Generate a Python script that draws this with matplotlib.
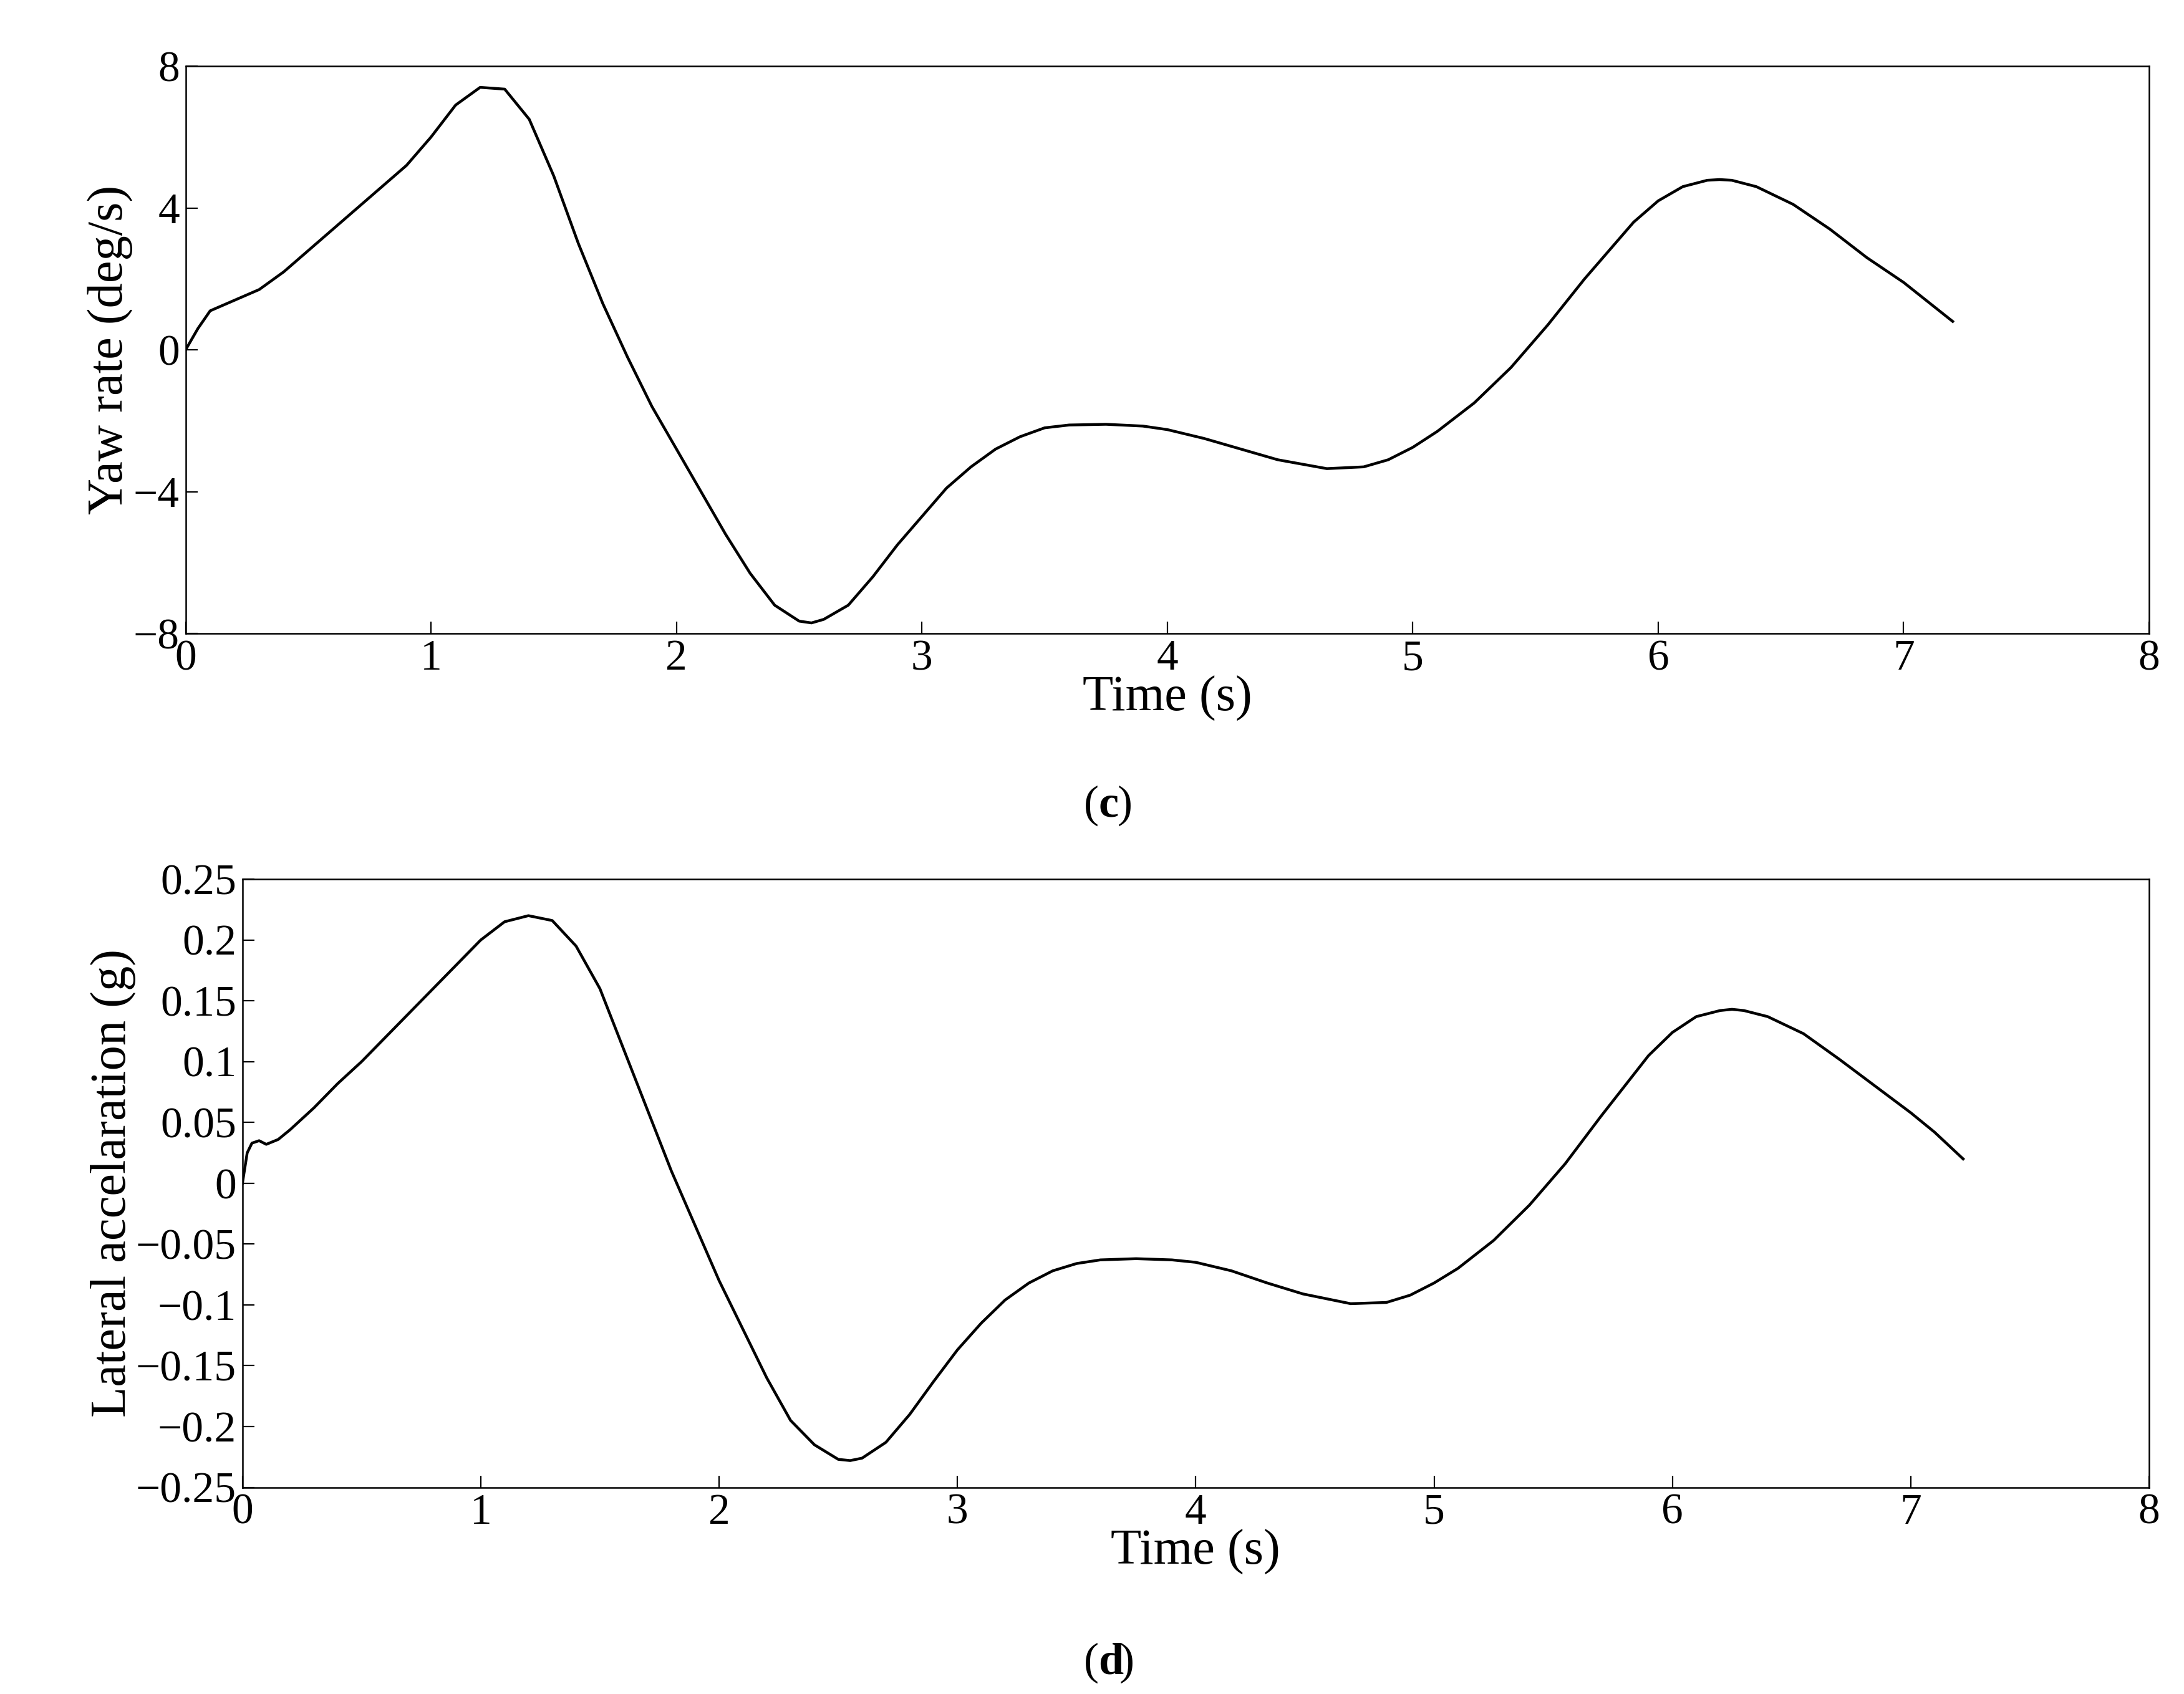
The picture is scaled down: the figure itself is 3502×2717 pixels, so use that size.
import matplotlib
matplotlib.use("Agg")
import matplotlib.pyplot as plt

t_yaw = [0,0.05,0.1,0.2,0.3,0.4,0.5,0.7,0.9,1.0,1.1,1.2,1.3,1.4,1.5,1.6,1.7,1.8,1.9,2.0,2.1,2.2,2.3,2.4,2.5,2.55,2.6,2.7,2.8,2.9,3.0,3.1,3.2,3.3,3.4,3.5,3.6,3.75,3.9,4.0,4.15,4.3,4.45,4.65,4.8,4.9,5.0,5.1,5.25,5.4,5.55,5.7,5.8,5.9,6.0,6.1,6.2,6.25,6.3,6.4,6.55,6.7,6.85,7.0,7.1,7.2]
yaw = [0,0.6,1.1,1.4,1.7,2.2,2.8,4.0,5.2,6.0,6.9,7.4,7.35,6.5,4.9,3.0,1.3,-0.2,-1.6,-2.8,-4.0,-5.2,-6.3,-7.2,-7.65,-7.7,-7.6,-7.2,-6.4,-5.5,-4.7,-3.9,-3.3,-2.8,-2.45,-2.2,-2.12,-2.1,-2.15,-2.25,-2.5,-2.8,-3.1,-3.35,-3.3,-3.1,-2.75,-2.3,-1.5,-0.5,0.7,2.0,2.8,3.6,4.2,4.6,4.78,4.8,4.78,4.6,4.1,3.4,2.6,1.9,1.35,0.8]

t_acc = [0,0.02,0.04,0.07,0.1,0.15,0.2,0.3,0.4,0.5,0.7,0.9,1.0,1.1,1.2,1.3,1.4,1.5,1.6,1.7,1.8,1.9,2.0,2.1,2.2,2.3,2.4,2.5,2.55,2.6,2.7,2.8,2.9,3.0,3.1,3.2,3.3,3.4,3.5,3.6,3.75,3.9,4.0,4.15,4.3,4.45,4.65,4.8,4.9,5.0,5.1,5.25,5.4,5.55,5.7,5.8,5.9,6.0,6.1,6.2,6.25,6.3,6.4,6.55,6.7,6.85,7.0,7.1,7.22]
acc = [0,0.025,0.033,0.035,0.032,0.036,0.044,0.062,0.082,0.10,0.14,0.18,0.20,0.215,0.22,0.216,0.195,0.16,0.11,0.06,0.01,-0.035,-0.08,-0.12,-0.16,-0.195,-0.215,-0.227,-0.228,-0.226,-0.213,-0.19,-0.163,-0.137,-0.115,-0.096,-0.082,-0.072,-0.066,-0.063,-0.062,-0.063,-0.065,-0.072,-0.082,-0.091,-0.099,-0.098,-0.092,-0.082,-0.07,-0.047,-0.018,0.016,0.055,0.08,0.105,0.124,0.137,0.142,0.143,0.142,0.137,0.123,0.102,0.08,0.058,0.042,0.02]

plt.rcParams['font.family'] = ['Liberation Serif', 'DejaVu Serif']
fig = plt.figure(figsize=(17.51, 13.585), dpi=200)

ax1 = fig.add_axes([0.085, 0.626, 0.899, 0.335])
ax1.plot(t_yaw, yaw, color='black', lw=1.6)
ax1.set_xlim(0, 8); ax1.set_ylim(-8, 8)
ax1.set_xticks(range(9)); ax1.set_yticks([-8, -4, 0, 4, 8])
ax1.set_yticklabels(['\u22128', '\u22124', '0', '4', '8'])
ax1.set_xlabel('Time (s)', fontsize=29, labelpad=-2)
ax1.set_ylabel('Yaw rate (deg/s)', fontsize=29, labelpad=0)
fig.text(0.503, 0.518, '(', ha='right', fontsize=26)
fig.text(0.503, 0.518, 'c', ha='left', fontsize=26, fontweight='bold')
fig.text(0.5115, 0.518, ')', ha='left', fontsize=26)

ax2 = fig.add_axes([0.111, 0.122, 0.873, 0.359])
ax2.plot(t_acc, acc, color='black', lw=1.6)
ax2.set_xlim(0, 8); ax2.set_ylim(-0.25, 0.25)
ax2.set_xticks(range(9))
yt = [-0.25, -0.2, -0.15, -0.1, -0.05, 0, 0.05, 0.1, 0.15, 0.2, 0.25]
ax2.set_yticks(yt)
ax2.set_yticklabels([('\u2212' if v < 0 else '') + f'{abs(v):g}' for v in yt])
ax2.set_xlabel('Time (s)', fontsize=29, labelpad=-2)
ax2.set_ylabel('Lateral accelaration (g)', fontsize=29, labelpad=0)
fig.text(0.503, 0.012, '(', ha='right', fontsize=26)
fig.text(0.503, 0.012, 'd', ha='left', fontsize=26, fontweight='bold')
fig.text(0.5125, 0.012, ')', ha='left', fontsize=26)

for ax in (ax1, ax2):
    ax.tick_params(direction='in', labelsize=25, length=7, top=False, right=False)
    for s in ax.spines.values():
        s.set_linewidth(0.9)

fig.savefig('out.png', dpi=200)
